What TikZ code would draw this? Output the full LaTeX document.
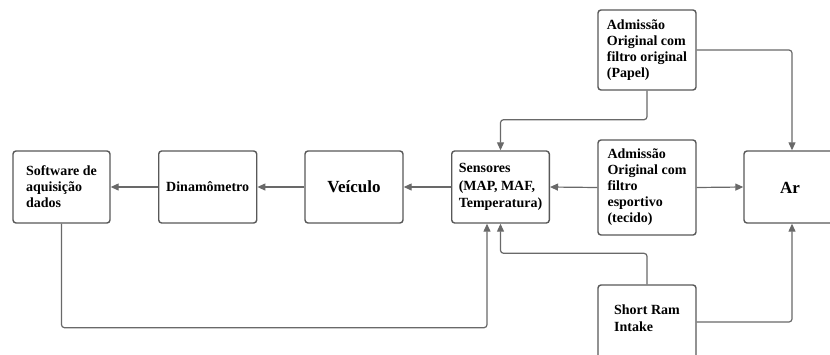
\documentclass[tikz,border=0pt]{standalone}
\usepackage{fontspec}
\setmainfont{Liberation Serif}
\usetikzlibrary{arrows.meta}
\definecolor{boxc}{RGB}{88,88,88}
\definecolor{linec}{RGB}{105,105,105}
\tikzset{
  blk/.style={draw=boxc, line width=1.4pt, rounded corners=3pt, fill=white,
    align=left, inner sep=0pt, font=\fontsize{14}{16}\selectfont\bfseries, text=black},
  big/.style={font=\fontsize{17}{19}\selectfont\bfseries},
  conn/.style={draw=linec, line width=1.2pt, rounded corners=3pt,
    -{Triangle[length=8pt,width=7pt]}}
}
\begin{document}
\begin{tikzpicture}[x=1pt,y=-1pt]
\useasboundingbox (0,0) rectangle (830,354);
\clip (0,0) rectangle (830,354);
\fill[white] (0,0) rectangle (830,354);

\node[blk, minimum width=97pt, minimum height=72pt] (sw) at (61.5,187) {Software de\\aquisição\\dados};
\node[blk, minimum width=98pt, minimum height=72pt] (din) at (207.7,187) {Dinamômetro};
\node[blk, big, minimum width=98pt, minimum height=72pt] (vei) at (354,187) {Veículo};
\node[blk, minimum width=97.6pt, minimum height=72pt, font=\fontsize{14}{17.3}\selectfont\bfseries] (sen) at (500.5,187) {Sensores\\(MAP, MAF,\\Temperatura)};
\node[blk, minimum width=98pt, minimum height=80pt] (adm1) at (647,50) {Admissão\\Original com\\filtro original\\(Papel)};
\node[blk, minimum width=98pt, minimum height=95pt] (adm2) at (647,187.5) {Admissão\\Original com\\filtro\\esportivo\\(tecido)};
\node[blk, minimum width=98pt, minimum height=90pt] (sri) at (647,330) {};
\node[font=\fontsize{14}{17}\selectfont\bfseries, align=left, inner sep=0pt] (sritext) at (647,318.5) {Short Ram\\Intake};
\node[blk, minimum width=96pt, minimum height=72pt] (ar) at (792,187) {};
\node[font=\fontsize{17}{19}\selectfont\bfseries, inner sep=0pt] (artext) at (790,188) {Ar};

\draw[conn] (sen.west) -- (vei.east);
\draw[conn] (vei.west) -- (din.east);
\draw[conn] (din.west) -- (sw.east);
\draw[conn] (adm2.west) -- (sen.east);
\draw[conn] (adm2.east) -- (ar.west);
\draw[conn] (adm1.south) -- ++(0,29) -| (sen.north);
\draw[conn] (adm1.east) -| (ar.north);
\draw[conn] ([yshift=8pt]sri.east) -| (ar.south);
\draw[conn] (sri.north) -- ++(0,-31) -| (sen.south);
\draw[conn] (sw.south) -- ++(0,104) -| ([xshift=-13.5pt]sen.south);
\end{tikzpicture}
\end{document}
